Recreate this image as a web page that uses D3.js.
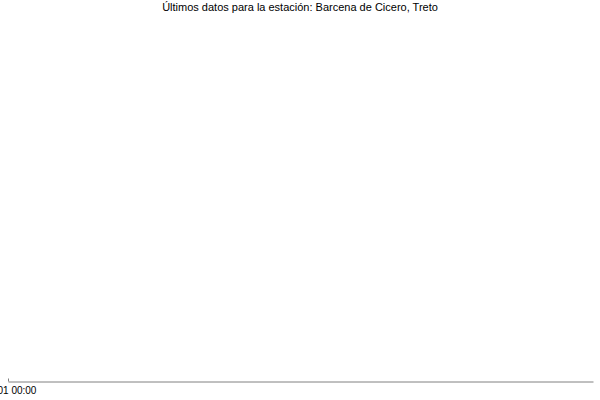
<!DOCTYPE html>
<html>
<head>
<meta charset="utf-8">
<script src="https://cdn.jsdelivr.net/npm/d3@7"></script>
<style>
  body { margin: 0; background: #fff; }
  svg { display: block; font-family: "Liberation Sans", Arial, sans-serif; }
</style>
</head>
<body>
<div id="chart"></div>
<script>
var w = 600;
var h = 400;

// chart data: the station has no readings, only the axis start
var title = "Últimos datos para la estación: Barcena de Cicero, Treto";
var times = [];          // reading times
var values = [];         // reading values
var tickLabels = ["2000-01-01T00:00"];

var parseTime = d3.timeParse("%Y-%m-%dT%H:%M");
var start = parseTime(tickLabels[0]);

var svg = d3.select("#chart").append("svg")
    .attr("width", w)
    .attr("height", h);

svg.append("text")
    .attr("x", w / 2)
    .attr("y", 11)
    .attr("text-anchor", "middle")
    .attr("font-size", 11)
    .text(title);

var x = d3.scaleTime()
    .domain([start, d3.timeDay.offset(start, 1)])
    .range([8, 593]);

var axis = svg.append("g")
    .attr("transform", "translate(0,381.5)")
    .call(d3.axisBottom(x)
        .tickValues(tickLabels.map(parseTime))
        .tickFormat(d3.timeFormat("%d %H:%M"))
        .tickSize(-3)
        .tickSizeOuter(0));

axis.select(".domain").attr("stroke", "#808080");
axis.selectAll(".tick line").attr("stroke", "#808080");
axis.selectAll(".tick text")
    .attr("y", 5)
    .attr("dy", "0.71em")
    .attr("text-anchor", "start")
    .attr("x", -11)
    .attr("font-size", 10)
    .attr("font-family", "Liberation Sans, Arial, sans-serif")
    .attr("fill", "#000");

// points (none for this station)
svg.append("g").selectAll("circle")
    .data(values)
    .enter()
    .append("circle")
    .attr("cx", function(d, i) { return x(parseTime(times[i])); })
    .attr("cy", 200)
    .attr("r", 2);
</script>
</body>
</html>
